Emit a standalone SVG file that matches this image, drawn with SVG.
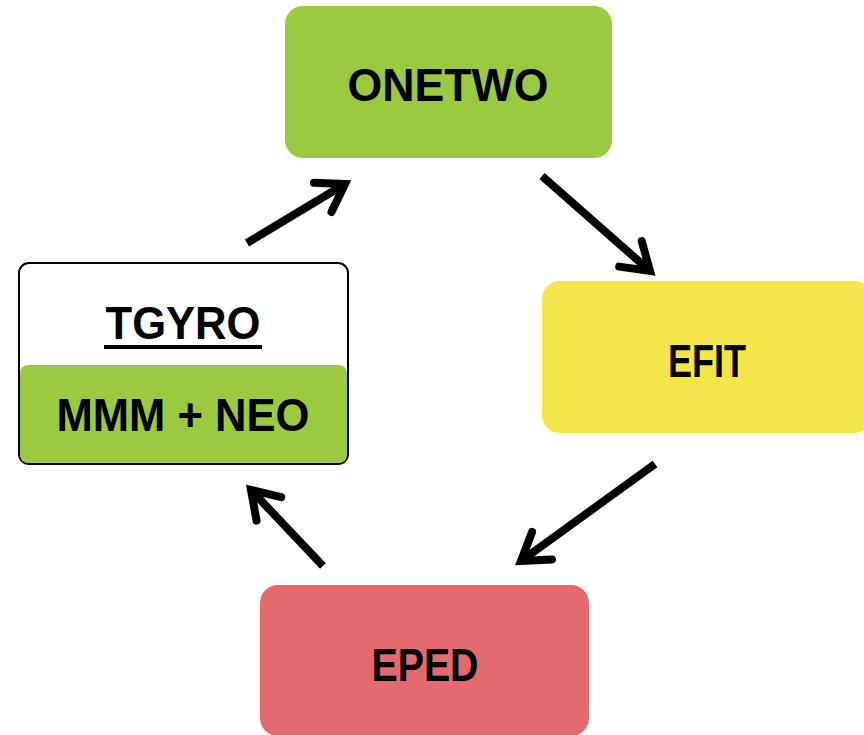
<svg xmlns="http://www.w3.org/2000/svg" width="864" height="735" viewBox="0 0 864 735">
<style>
.lbl{font-family:"Liberation Sans",Arial,sans-serif;font-weight:bold;font-size:47px;fill:#000;text-anchor:middle}
.conn{stroke:#000;stroke-width:8;fill:none}
</style>
<defs>
<marker id="ah" markerUnits="userSpaceOnUse" markerWidth="60" markerHeight="60" refX="0" refY="0" viewBox="-40 -30 50 60" orient="auto" overflow="visible">
<path d="M-26 -17 L0 0 L-26 17" fill="none" stroke="#000" stroke-width="8" stroke-linecap="round" stroke-linejoin="miter"/>
</marker>
</defs>
<rect width="864" height="735" fill="#fff"/>
<g id="onetwo">
<rect x="285" y="6" width="327" height="152" rx="18" fill="#9bc93f"/>
<text class="lbl" x="448" y="101" textLength="201" lengthAdjust="spacingAndGlyphs">ONETWO</text>
</g>
<g id="efit">
<rect x="542" y="281" width="330" height="152" rx="18" fill="#f4e64a"/>
<text class="lbl" x="707" y="377" textLength="78" lengthAdjust="spacingAndGlyphs">EFIT</text>
</g>
<g id="eped">
<rect x="260" y="585" width="329" height="151" rx="18" fill="#e56a70"/>
<text class="lbl" x="425" y="681" textLength="107" lengthAdjust="spacingAndGlyphs">EPED</text>
</g>
<g id="tgyro">
<rect x="19" y="263" width="329" height="201" rx="10" fill="#fff" stroke="#000" stroke-width="2"/>
<path d="M20 374 Q20 365 29 365 L338 365 Q347 365 347 374 L347 454 Q347 463 338 463 L29 463 Q20 463 20 454 Z" fill="#9bc93f"/>
<text class="lbl" x="183" y="339" textLength="155" lengthAdjust="spacingAndGlyphs">TGYRO</text>
<rect x="104" y="345" width="158" height="4" fill="#000"/>
<text class="lbl" x="183" y="431" textLength="253" lengthAdjust="spacingAndGlyphs">MMM + NEO</text>
</g>
<g id="connectors">
<line class="conn" x1="247" y1="243" x2="345" y2="184" marker-end="url(#ah)"/>
<line class="conn" x1="542" y1="176" x2="650" y2="271" marker-end="url(#ah)"/>
<line class="conn" x1="655" y1="464" x2="521" y2="561" marker-end="url(#ah)"/>
<line class="conn" x1="323" y1="566" x2="251" y2="490" marker-end="url(#ah)"/>
</g>
</svg>
